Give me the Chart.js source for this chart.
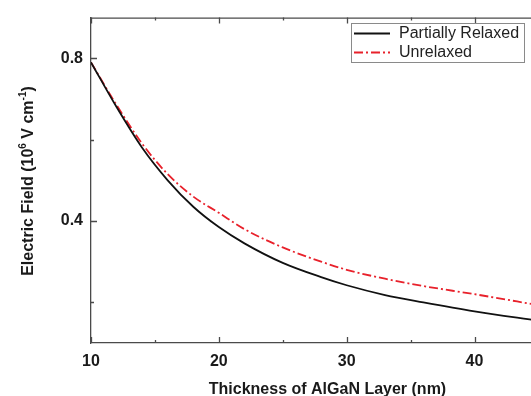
<!DOCTYPE html>
<html>
<head>
<meta charset="utf-8">
<script src="https://cdn.jsdelivr.net/npm/chart.js@4"></script>
<style>
  html, body { margin: 0; padding: 0; background: #fff; overflow: hidden; }
  #wrap { width: 570px; height: 396px; }
</style>
</head>
<body>
<div id="wrap"><canvas id="field-chart" width="570" height="396"></canvas></div>
<script>
// AlGaN layer thickness (nm)
const thickness = [10, 12, 14, 16, 18, 20, 22, 25, 28, 30, 33, 36, 40, 45];
// Electric field, 10^6 V/cm
const partiallyRelaxed = [0.79, 0.68, 0.58, 0.50, 0.435, 0.385, 0.345, 0.297, 0.262, 0.242, 0.218, 0.200, 0.178, 0.155];
const unrelaxed = [0.79, 0.685, 0.59, 0.515, 0.46, 0.42, 0.38, 0.335, 0.30, 0.28, 0.258, 0.240, 0.22, 0.193];

const xTicks = [10, 20, 30, 40];
const yTicks = [0.4, 0.8];

const FONT = 'Arial, "Liberation Sans", sans-serif';
const AXIS_COLOR = '#4a4a4a';
const TEXT_COLOR = '#1a1a1a';

function toPoints(xs, ys) {
    return xs.map((x, i) => ({ x: x, y: ys[i] }));
}

// Inward tick marks, top frame line, y title with superscripts and the boxed legend
const extras = {
    id: 'extras',
    afterDraw(chart) {
        const ctx = chart.ctx;
        const area = chart.chartArea;
        const xs = chart.scales.x;
        const ys = chart.scales.y;
        ctx.save();
        ctx.strokeStyle = AXIS_COLOR;
        ctx.lineWidth = 1.3;

        // top frame
        ctx.beginPath();
        ctx.moveTo(area.left, area.top + 0.5);
        ctx.lineTo(area.right, area.top + 0.5);
        ctx.stroke();

        ctx.beginPath();
        for (let v = 10; v <= 45; v += 5) {
            const px = Math.round(xs.getPixelForValue(v)) + 0.5;
            const len = v % 10 === 0 ? 6 : 3;
            ctx.moveTo(px, area.bottom);
            ctx.lineTo(px, area.bottom - len);
            ctx.moveTo(px, area.top);
            ctx.lineTo(px, area.top + len);
        }
        for (let v = 0.2; v < 0.9; v += 0.2) {
            const py = Math.round(ys.getPixelForValue(v)) + 0.5;
            const major = Math.abs(v - 0.4) < 1e-6 || Math.abs(v - 0.8) < 1e-6;
            ctx.moveTo(area.left, py);
            ctx.lineTo(area.left + (major ? 6 : 3), py);
        }
        ctx.stroke();

        // y axis title
        const parts = [
            { t: 'Electric Field (10', sup: false },
            { t: '6', sup: true },
            { t: ' V cm', sup: false },
            { t: '-1', sup: true },
            { t: ')', sup: false }
        ];
        const bigFont = 'bold 16px ' + FONT;
        const smallFont = 'bold 10px ' + FONT;
        let total = 0;
        parts.forEach(p => {
            ctx.font = p.sup ? smallFont : bigFont;
            p.w = ctx.measureText(p.t).width;
            total += p.w;
        });
        ctx.translate(29, 181);
        ctx.rotate(-Math.PI / 2);
        ctx.fillStyle = TEXT_COLOR;
        ctx.textBaseline = 'middle';
        ctx.textAlign = 'left';
        let cx = -total / 2;
        parts.forEach(p => {
            ctx.font = p.sup ? smallFont : bigFont;
            ctx.fillText(p.t, cx, p.sup ? -6 : 0);
            cx += p.w;
        });
        ctx.restore();

        // legend box
        ctx.save();
        const lx = 351, ly = 23, lw = 173, lh = 39;
        ctx.fillStyle = '#fff';
        ctx.fillRect(lx, ly, lw, lh);
        ctx.strokeStyle = '#8a8a8a';
        ctx.lineWidth = 1;
        ctx.strokeRect(lx + 0.5, ly + 0.5, lw, lh);
        ctx.font = '16px ' + FONT;
        ctx.textBaseline = 'middle';
        ctx.fillStyle = '#222';
        chart.data.datasets.forEach((ds, i) => {
            const rowY = ly + 10.5 + i * 19;
            ctx.beginPath();
            ctx.strokeStyle = ds.borderColor;
            ctx.lineWidth = ds.borderWidth;
            ctx.setLineDash(ds.borderDash || []);
            ctx.moveTo(lx + 3, rowY);
            ctx.lineTo(lx + 39, rowY);
            ctx.stroke();
            ctx.setLineDash([]);
            ctx.fillText(ds.label, lx + 48, rowY);
        });
        ctx.restore();
    }
};

new Chart(document.getElementById('field-chart'), {
    type: 'line',
    data: {
        datasets: [{
            label: 'Partially Relaxed',
            data: toPoints(thickness, partiallyRelaxed),
            borderColor: '#111111',
            borderWidth: 1.8,
            pointRadius: 0,
            cubicInterpolationMode: 'monotone',
            fill: false
        }, {
            label: 'Unrelaxed',
            data: toPoints(thickness, unrelaxed),
            borderColor: '#e8212b',
            borderWidth: 1.8,
            borderDash: [9, 3, 2, 3],
            pointRadius: 0,
            cubicInterpolationMode: 'monotone',
            fill: false
        }]
    },
    options: {
        responsive: false,
        animation: false,
        layout: { padding: { top: 14, right: 6, left: 0, bottom: 0 } },
        plugins: {
            legend: { display: false },
            tooltip: { enabled: false }
        },
        scales: {
            x: {
                type: 'linear',
                min: 10,
                max: 47,
                afterBuildTicks: s => { s.ticks = xTicks.map(v => ({ value: v })); },
                afterFit: s => { s.height = 53; },
                grid: { display: false, drawTicks: false },
                border: { display: true, color: AXIS_COLOR, width: 1.3 },
                ticks: {
                    padding: 9,
                    color: TEXT_COLOR,
                    font: { family: FONT, size: 16, weight: 'bold' },
                    maxRotation: 0
                },
                title: {
                    display: true,
                    text: 'Thickness of AlGaN Layer (nm)',
                    color: TEXT_COLOR,
                    font: { family: FONT, size: 16, weight: 'bold' },
                    padding: { top: 4, bottom: -3 }
                }
            },
            y: {
                min: 0.1,
                max: 0.9,
                afterBuildTicks: s => { s.ticks = yTicks.map(v => ({ value: v })); },
                afterFit: s => { s.width = 91; },
                grid: { display: false, drawTicks: false },
                border: { display: true, color: AXIS_COLOR, width: 1.3 },
                ticks: {
                    padding: 8,
                    color: TEXT_COLOR,
                    font: { family: FONT, size: 16, weight: 'bold' },
                    callback: v => v.toFixed(1)
                }
            }
        }
    },
    plugins: [extras]
});
</script>
</body>
</html>
